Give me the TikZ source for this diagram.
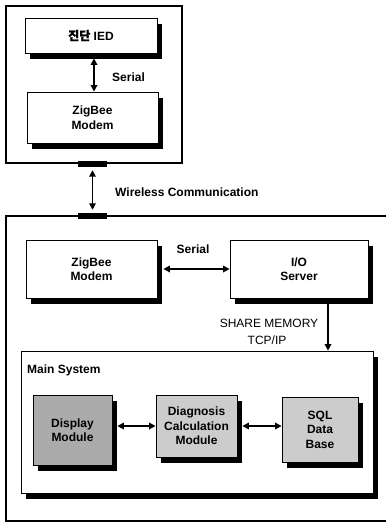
\documentclass[tikz,border=0pt]{standalone}
\usepackage{fontspec}
\setmainfont{Liberation Sans}
\newfontfamily\kr[FakeBold=1.5]{Noto Sans CJK KR}
\usetikzlibrary{arrows.meta,shadows}
\begin{document}
\begin{tikzpicture}[x=1pt,y=-1pt,
  every node/.style={font=\fontsize{12}{14.5}\selectfont},
  shbox/.style={draw=black,line width=0.8pt,fill=white,align=center,inner sep=0pt,
    font=\fontsize{12}{14.5}\selectfont\bfseries,
    drop shadow={shadow xshift=5pt,shadow yshift=-6pt,fill=black,opacity=1}},
  outer/.style={draw=black,line width=1.4pt},
  bar/.style={fill=black,draw=none,minimum width=29pt,minimum height=6pt,inner sep=0pt},
  dbl/.style={{Triangle[length=6.5pt,width=6.5pt]}-{Triangle[length=6.5pt,width=6.5pt]},line width=1.6pt},
  single/.style={-{Triangle[length=6.5pt,width=6.5pt]},line width=1.6pt},
  lbl/.style={font=\fontsize{12}{14}\selectfont,inner sep=0pt}
]
\useasboundingbox (0,0) rectangle (385,524);
% top outer box
\draw[outer] (6,6) rectangle (182,163);
% bottom outer box
\draw[outer] (395,216) -- (6,216) -- (6,521) -- (395,521);
\node[bar] (bar1) at (92.5,164) {};
\node[bar] (bar2) at (92.5,216) {};

\node[shbox,minimum width=132pt,minimum height=35pt] (ied) at (91,35.5) {{\kr 진단} IED};
\node[shbox,minimum width=131pt,minimum height=51pt] (zig1) at (92.5,117.5) {ZigBee\\Modem};
\draw[dbl,shorten <=5pt] ([xshift=3pt]ied.south) -- ([xshift=3pt]ied.south |- zig1.north);
\node[lbl,anchor=west] (ser1) at (112,77) {\bfseries Serial};

\draw[dbl,shorten <=3pt,shorten >=3pt] (bar1.south) -- (bar2.north);
\node[lbl,anchor=west] (wl) at (115,192) {\bfseries Wireless Communication};

\node[shbox,minimum width=131pt,minimum height=58pt] (zig2) at (91.5,269) {ZigBee\\Modem};
\node[shbox,minimum width=138pt,minimum height=58pt] (io) at (299,269) {I/O\\Server};
\draw[dbl,shorten <=6pt] (zig2.east) -- (io.west);
\node[lbl] (ser2) at (193,249) {\bfseries Serial};

\node[shbox,minimum width=352pt,minimum height=142pt] (main) at (197,422) {};
\draw[single,shorten <=6pt] ([xshift=29pt]io.south) -- ([xshift=29pt]io.south |- main.north);
\node[lbl] (sm) at (269,323) {SHARE MEMORY};
\node[lbl] (tcp) at (267,340) {TCP/IP};
\node[lbl,anchor=west] (mst) at (27,370) {\bfseries Main System};

\node[shbox,fill=black!33,minimum width=79pt,minimum height=70pt] (disp) at (72.5,430) {Display\\Module};
\node[shbox,fill=black!20,minimum width=81pt,minimum height=62pt] (diag) at (196.5,426) {Diagnosis\\Calculation\\Module};
\node[shbox,fill=black!20,minimum width=76pt,minimum height=65pt] (sql) at (320,429.5) {SQL\\Data\\Base};
\draw[dbl,shorten <=5pt] (disp.east |- diag.west) -- (diag.west);
\draw[dbl,shorten <=5pt] (diag.east) -- (diag.east -| sql.west);
\end{tikzpicture}
\end{document}
